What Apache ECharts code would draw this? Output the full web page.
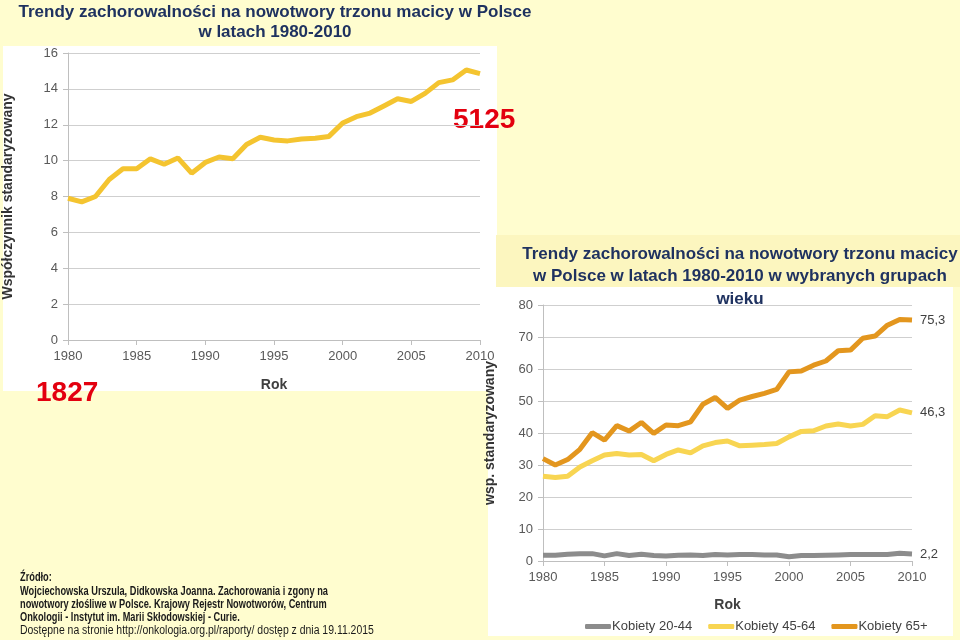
<!DOCTYPE html>
<html><head><meta charset="utf-8">
<script src="https://cdn.jsdelivr.net/npm/echarts@6/dist/echarts.min.js"></script>
<style>html,body{margin:0;padding:0;background:#FFFDCF}#c{width:960px;height:640px}</style>
</head><body><div id="c"></div>
<script>
// ---- data ----
const years = [1980,1981,1982,1983,1984,1985,1986,1987,1988,1989,1990,1991,1992,1993,1994,1995,1996,1997,1998,1999,2000,2001,2002,2003,2004,2005,2006,2007,2008,2009,2010];
const totalRate = [7.9,7.7,8.0,8.95,9.55,9.55,10.1,9.8,10.15,9.3,9.9,10.2,10.1,10.9,11.3,11.15,11.1,11.2,11.25,11.35,12.1,12.45,12.65,13.05,13.45,13.3,13.75,14.35,14.5,15.05,14.85];
const women2044 = [1.8,1.8,2.1,2.3,2.3,1.6,2.3,1.7,2.1,1.7,1.6,1.8,1.9,1.7,2.0,1.9,2.0,2.0,1.9,1.9,1.3,1.7,1.7,1.8,1.9,2.0,2.0,2.0,2.0,2.4,2.2];
const women4564 = [26.5,26.1,26.5,29.4,31.3,33.1,33.6,33.1,33.3,31.3,33.3,34.7,33.8,36.0,37.0,37.5,36.0,36.2,36.4,36.7,38.8,40.5,40.7,42.2,42.8,42.2,42.7,45.4,45.1,47.2,46.3];
const women65 = [32.0,30.0,31.7,34.9,40.1,37.8,42.3,40.6,43.3,39.9,42.5,42.3,43.5,49.0,51.1,47.7,50.3,51.4,52.4,53.6,59.1,59.4,61.2,62.5,65.7,65.9,69.6,70.3,73.7,75.5,75.3];
const seriesNames = ['Kobiety 20-44','Kobiety 45-64','Kobiety 65+'];
const leftYTicks = {min:0, max:16, interval:2};
const rightYTicks = {min:0, max:80, interval:10};
const xTicks = {min:1980, max:2010, interval:5};

const pairs = arr => arr.map((v,i)=>[years[i], v]);
const FONT = "'Liberation Sans', Arial, sans-serif";
const NAVY = '#1F3260';

const axisCommon = {
  axisLine:{show:true, lineStyle:{color:'#BFBFBF', width:1}},
  axisTick:{show:true, length:5, lineStyle:{color:'#BFBFBF'}},
  splitLine:{show:false}
};
function xAx(grid, gap){
  return Object.assign({}, axisCommon, {
    type:'value', gridIndex:grid, min:xTicks.min, max:xTicks.max, interval:xTicks.interval,
    axisLabel:{color:'#595959', fontSize:13, fontFamily:FONT, margin:10, formatter:v=>String(v)},
    name:'Rok', nameLocation:'middle', nameGap:gap,
    nameTextStyle:{fontWeight:'bold', fontSize:14, color:'#404040', fontFamily:FONT}
  });
}
function yAx(grid, t, name, gap){
  return Object.assign({}, axisCommon, {
    type:'value', gridIndex:grid, min:t.min, max:t.max, interval:t.interval,
    axisLabel:{color:'#595959', fontSize:13, fontFamily:FONT, margin:10},
    splitLine:{show:true, lineStyle:{color:'#CFCFCF', width:1}},
    name:name, nameLocation:'middle', nameGap:gap, nameRotate:90,
    nameTextStyle:{fontWeight:'bold', fontSize:14, color:'#333', fontFamily:FONT}
  });
}
const endLab = {show:true, distance:8, color:'#404040', fontSize:13, fontFamily:FONT,
  formatter:p=>String(p.value[1]).replace('.', ',')};

function ctext(x, y, text, font, sx){
  return {type:'text', x:x, y:y, scaleX:sx||1,
    style:{text:text, font:font, fill:NAVY, textAlign:'center', textVerticalAlign:'middle'}};
}
function ltext(x, y, text, font, sx){
  return {type:'text', x:x, y:y, scaleX:sx||1,
    style:{text:text, font:font, fill:'#1A1A1A', textAlign:'left', textVerticalAlign:'middle'}};
}
const TF = "bold 17px "+FONT;
const SB = "bold 12px "+FONT;
const SR = "12px "+FONT;

const chart = echarts.init(document.getElementById('c'), null, {renderer:'canvas'});
chart.setOption({
  animation:false,
  backgroundColor:'#FFFDCF',
  graphic:[
    {type:'rect', z:-10, shape:{x:3,y:46,width:494,height:345}, style:{fill:'#FFFFFF'}},
    {type:'rect', z:-10, shape:{x:488,y:287,width:465,height:349}, style:{fill:'#FFFFFF'}},
    {type:'rect', z:-10, shape:{x:496,y:235,width:464,height:52}, style:{fill:'#FCF6BF'}},
    ctext(275, 12, 'Trendy zachorowalności na nowotwory trzonu macicy w Polsce', TF),
    ctext(275, 32, 'w latach 1980-2010', TF),
    ctext(740, 254, 'Trendy zachorowalności na nowotwory trzonu macicy', TF),
    ctext(740, 276, 'w Polsce w latach 1980-2010 w wybranych grupach', TF),
    ctext(740, 299, 'wieku', TF),
    {type:'text', x:453, y:120, style:{text:'5125', font:"bold 28px "+FONT, fill:'#E3000F', textVerticalAlign:'middle'}},
    {type:'text', x:36, y:393, style:{text:'1827', font:"bold 28px "+FONT, fill:'#E3000F', textVerticalAlign:'middle'}},
    ltext(20, 578, 'Źródło:', SB, 0.77),
    ltext(20, 592, 'Wojciechowska Urszula, Didkowska Joanna. Zachorowania i zgony na', SB, 0.77),
    ltext(20, 605, 'nowotwory złośliwe w Polsce. Krajowy Rejestr Nowotworów, Centrum', SB, 0.77),
    ltext(20, 618, 'Onkologii - Instytut im. Marii Skłodowskiej - Curie.', SB, 0.77),
    ltext(20, 631, 'Dostępne na stronie http://onkologia.org.pl/raporty/ dostęp z dnia 19.11.2015', SR, 0.87)
  ],
  grid:[
    {left:67, top:53, width:413, height:287},
    {left:543, top:305, width:369, height:256}
  ],
  xAxis:[xAx(0,38), xAx(1,37)],
  yAxis:[yAx(0,leftYTicks,'Współczynnik standaryzowany',53), yAx(1,rightYTicks,'wsp. standaryzowany',46)],
  legend:{left:580, top:615, itemWidth:26, itemHeight:5, itemGap:16, icon:'roundRect',
    textStyle:{fontSize:13, color:'#404040', fontFamily:FONT, padding:[0,0,0,-4]}, data:seriesNames},
  series:[
    {type:'line', xAxisIndex:0, yAxisIndex:0, data:pairs(totalRate), showSymbol:false, lineStyle:{width:5, color:'#F4C430'}, itemStyle:{color:'#F4C430'}},
    {name:seriesNames[0], type:'line', xAxisIndex:1, yAxisIndex:1, data:pairs(women2044), showSymbol:false, lineStyle:{width:5, color:'#8C8C8C'}, itemStyle:{color:'#8C8C8C'}, endLabel:endLab},
    {name:seriesNames[1], type:'line', xAxisIndex:1, yAxisIndex:1, data:pairs(women4564), showSymbol:false, lineStyle:{width:5, color:'#F8D552'}, itemStyle:{color:'#F8D552'}, endLabel:endLab},
    {name:seriesNames[2], type:'line', xAxisIndex:1, yAxisIndex:1, data:pairs(women65), showSymbol:false, lineStyle:{width:5, color:'#E3961E'}, itemStyle:{color:'#E3961E'}, endLabel:endLab}
  ]
});
</script></body></html>
